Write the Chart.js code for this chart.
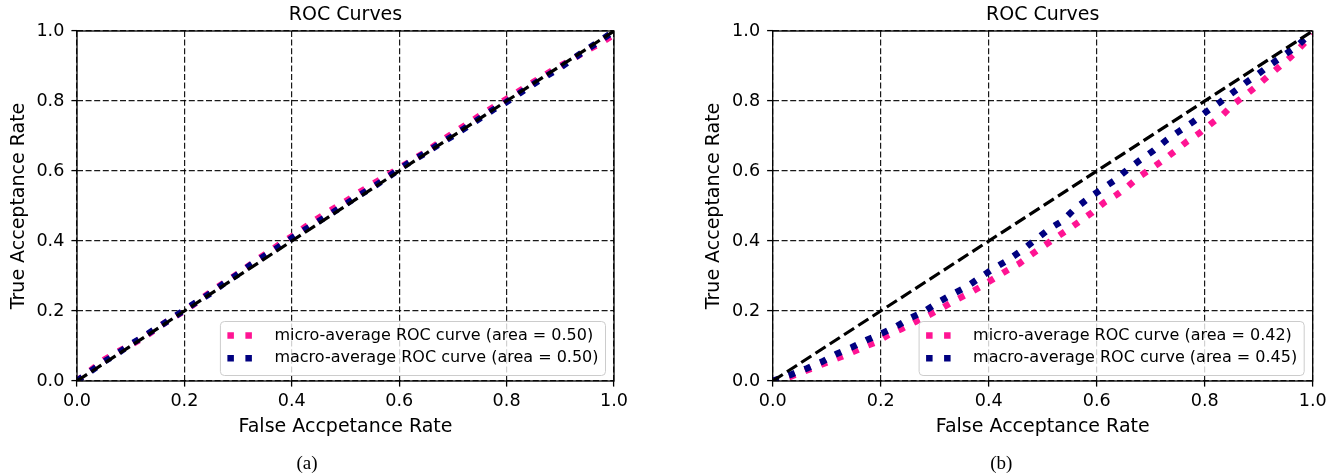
<!DOCTYPE html>
<html>
<head>
<meta charset="utf-8">
<script src="https://cdn.jsdelivr.net/npm/chart.js@4.4.1/dist/chart.umd.min.js"></script>
<style>
html, body { margin:0; padding:0; background:#fff; overflow:hidden; width:1338px; height:475px; }
canvas { position:absolute; top:0; }
</style>
</head>
<body>
<canvas id="c1" width="668" height="475" style="left:0px"></canvas>
<canvas id="c2" width="682" height="475" style="left:690px"></canvas>
<script>
// ---------------- data ----------------
const tickLabels = ['0.0', '0.2', '0.4', '0.6', '0.8', '1.0'];
const chartTitle = 'ROC Curves';
const yTitle = 'True Acceptance Rate';
const xTitleA = 'False Accpetance Rate';
const xTitleB = 'False Acceptance Rate';
const captionA = '(a)';
const captionB = '(b)';
const legendA = ['micro-average ROC curve (area = 0.50)', 'macro-average ROC curve (area = 0.50)'];
const legendB = ['micro-average ROC curve (area = 0.42)', 'macro-average ROC curve (area = 0.45)'];

const chanceFpr = [0, 1];
const chanceTpr = [0, 1];

// (a)
const aFpr = [0,0.025,0.05,0.075,0.1,0.125,0.15,0.175,0.2,0.225,0.25,0.275,0.3,0.325,0.35,0.375,0.4,0.425,0.45,0.475,0.5,0.525,0.55,0.575,0.6,0.625,0.65,0.675,0.7,0.725,0.75,0.775,0.8,0.825,0.85,0.875,0.9,0.925,0.95,0.975,1];
const aMicroTpr = [0,0.03,0.06,0.083,0.103,0.125,0.152,0.178,0.2,0.227,0.256,0.282,0.307,0.335,0.362,0.388,0.413,0.44,0.466,0.49,0.513,0.538,0.562,0.585,0.608,0.632,0.655,0.682,0.708,0.733,0.758,0.782,0.806,0.83,0.854,0.878,0.9,0.922,0.945,0.965,0.99];
const aMacroTpr = [0,0.027,0.055,0.078,0.105,0.128,0.153,0.177,0.203,0.228,0.252,0.28,0.305,0.333,0.358,0.382,0.408,0.433,0.456,0.48,0.505,0.53,0.553,0.578,0.605,0.63,0.652,0.677,0.7,0.725,0.75,0.775,0.797,0.823,0.848,0.872,0.895,0.922,0.948,0.973,1.0];

// (b)
const bMicroFpr = [0,0.032,0.057,0.084,0.112,0.14,0.167,0.193,0.215,0.24,0.265,0.29,0.313,0.337,0.362,0.386,0.41,0.433,0.457,0.478,0.502,0.525,0.548,0.57,0.592,0.614,0.636,0.657,0.679,0.702,0.723,0.745,0.767,0.79,0.81,0.833,0.852,0.873,0.895,0.916,0.936,0.958,0.978,1.0];
const bMicroTpr = [0,0.012,0.027,0.043,0.06,0.077,0.096,0.112,0.132,0.15,0.17,0.189,0.208,0.23,0.249,0.27,0.293,0.315,0.336,0.36,0.386,0.41,0.434,0.458,0.482,0.51,0.531,0.555,0.584,0.608,0.631,0.657,0.684,0.708,0.733,0.76,0.789,0.814,0.841,0.869,0.895,0.924,0.955,0.99];
const bMacroFpr = [0,0.035,0.063,0.091,0.118,0.146,0.174,0.202,0.23,0.256,0.282,0.309,0.334,0.361,0.386,0.412,0.438,0.462,0.486,0.512,0.536,0.558,0.583,0.607,0.633,0.656,0.68,0.705,0.728,0.753,0.779,0.802,0.827,0.85,0.875,0.899,0.923,0.947,0.972,1.0];
const bMacroTpr = [0,0.019,0.036,0.055,0.077,0.096,0.117,0.136,0.157,0.181,0.2,0.227,0.249,0.271,0.298,0.324,0.348,0.374,0.403,0.434,0.457,0.49,0.52,0.546,0.573,0.603,0.631,0.658,0.687,0.714,0.741,0.768,0.795,0.822,0.851,0.877,0.905,0.931,0.958,1.0];

// ---------------- styling ----------------
const MICRO = '#FF1493';
const MACRO = '#000080';
const FONT = '"DejaVu Sans"';
Chart.defaults.color = '#000';
Chart.defaults.font.family = FONT;

const pts = (xs, ys) => xs.map((x, i) => ({ x: x, y: ys[i] }));

const framePlugin = {
  id: 'rocFrame',
  afterDatasetsDraw(chart, args, opts) {
    const ctx = chart.ctx, ca = chart.chartArea;
    ctx.save();
    ctx.strokeStyle = '#000';
    ctx.lineWidth = 1.3;
    ctx.setLineDash([]);
    ctx.strokeRect(ca.left, ca.top, ca.right - ca.left, ca.bottom - ca.top);
    // legend
    ctx.font = '16px ' + FONT;
    const tw = Math.max(...opts.labels.map(l => ctx.measureText(l).width));
    const w = 54 + tw + 7, h = 54;
    const right = ca.right - 8.5, bottom = ca.bottom - 5.5;
    const left = right - w, top = bottom - h;
    ctx.beginPath();
    ctx.roundRect(left, top, w, h, 4);
    ctx.fillStyle = 'rgba(255,255,255,0.8)';
    ctx.fill();
    ctx.strokeStyle = '#cccccc';
    ctx.lineWidth = 1;
    ctx.stroke();
    opts.labels.forEach((lab, i) => {
      const y = top + 14 + i * 22.7;
      ctx.setLineDash([6.5, 11.5]);
      ctx.lineWidth = 6.5;
      ctx.lineCap = 'butt';
      ctx.strokeStyle = opts.colors[i];
      ctx.beginPath();
      ctx.moveTo(left + 7, y);
      ctx.lineTo(left + 37, y);
      ctx.stroke();
      ctx.setLineDash([]);
      ctx.fillStyle = '#000';
      ctx.textBaseline = 'middle';
      ctx.textAlign = 'left';
      ctx.fillText(lab, left + 54, y);
    });
    ctx.restore();
  }
};

function makeChart(id, cfg) {
  const curve = (label, data, color, order) => ({
    label: label, data: data, borderColor: color, backgroundColor: color,
    borderWidth: 6.5, borderDash: [6.5, 10.5], borderCapStyle: 'butt',
    pointRadius: 0, fill: false, tension: 0, order: order
  });
  const datasets = [
    curve(cfg.legend[0], pts(cfg.microFpr, cfg.microTpr), MICRO, 3),
    curve(cfg.legend[1], pts(cfg.macroFpr, cfg.macroTpr), MACRO, 2),
    { label: 'chance', data: pts(chanceFpr, chanceTpr), borderColor: '#000', borderWidth: 3.2,
      borderDash: [12, 5], borderCapStyle: 'butt', pointRadius: 0, fill: false, order: 1 }
  ];
  const grid = {
    color: 'rgba(0,0,0,0.9)', lineWidth: 1.2,
    tickLength: 5.6, tickColor: '#000', tickWidth: 1.3, tickBorderDash: []
  };
  const border = { display: false, dash: [6, 2.6] };
  return new Chart(document.getElementById(id), {
    type: 'line',
    data: { datasets: datasets },
    plugins: [framePlugin],
    options: {
      responsive: false,
      animation: false,
      events: [],
      layout: { padding: { left: 0, right: cfg.padRight, top: 0, bottom: 0 } },
      scales: {
        x: {
          type: 'linear', min: 0, max: 1,
          border: border,
          grid: grid,
          ticks: { stepSize: 0.2, maxRotation: 0, autoSkip: false, padding: 4.5,
                   font: { size: 17.6, family: FONT }, color: '#000',
                   callback: (v, i) => tickLabels[i] },
          title: { display: true, text: cfg.xTitle, font: { size: 19, family: FONT }, color: '#000',
                   padding: { top: 0, bottom: 13.8 } },
          afterFit: s => { s.height = 71.2; }
        },
        y: {
          type: 'linear', min: 0, max: 1,
          border: border,
          grid: grid,
          ticks: { stepSize: 0.2, padding: 7, font: { size: 17.6, family: FONT }, color: '#000',
                   callback: (v, i) => tickLabels[i] },
          title: { display: true, text: yTitle, font: { size: 19, family: FONT }, color: '#000',
                   padding: { top: cfg.yTitlePad, bottom: 0 } },
          afterFit: s => { s.width = cfg.chartLeft; }
        }
      },
      plugins: {
        legend: { display: false },
        tooltip: { enabled: false },
        title: { display: true, text: chartTitle, fullSize: false, color: '#000',
                 font: { size: 19, family: FONT, weight: 'normal' },
                 padding: { top: 3.6, bottom: 4.6 } },
        subtitle: { display: true, text: cfg.caption, position: 'bottom', fullSize: true, color: '#000',
                    font: { size: 19, family: '"Liberation Serif"', weight: 'normal' },
                    padding: { top: 0, bottom: 0 } },
        rocFrame: { labels: cfg.legend, colors: [MICRO, MACRO] }
      }
    }
  });
}

makeChart('c1', {
  microFpr: aFpr, microTpr: aMicroTpr, macroFpr: aFpr, macroTpr: aMacroTpr,
  legend: legendA, xTitle: xTitleA, caption: captionA,
  chartLeft: 77, padRight: 54, yTitlePad: 7.2
});
makeChart('c2', {
  microFpr: bMicroFpr, microTpr: bMicroTpr, macroFpr: bMacroFpr, macroTpr: bMacroTpr,
  legend: legendB, xTitle: xTitleB, caption: captionB,
  chartLeft: 82.7, padRight: 59.3, yTitlePad: 12.9
});
</script>
</body>
</html>
